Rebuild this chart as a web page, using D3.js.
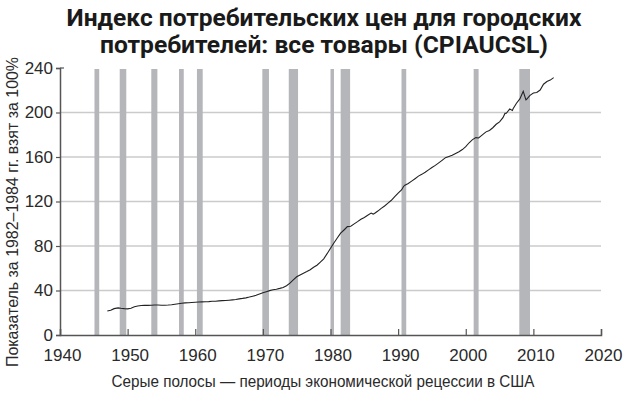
<!DOCTYPE html>
<html>
<head>
<meta charset="utf-8">
<script src="https://cdn.jsdelivr.net/npm/d3@7"></script>
<style>
  body { margin: 0; background: #fff; }
  svg { display: block; }
</style>
</head>
<body>
<svg width="627" height="395"></svg>
<script>
// CPI values (year as decimal, index 1982-84 = 100)
let cpi_dates = [1947.0, 1947.5, 1948.0, 1948.6, 1949.0, 1949.5, 1950.0, 1950.5, 1951.0, 1951.5,
  1952.0, 1952.5, 1953.0, 1953.5, 1954.0, 1954.5, 1955.0, 1955.5, 1956.0, 1956.5,
  1957.0, 1957.5, 1958.0, 1958.5, 1959.0, 1959.5, 1960.0, 1960.5, 1961.0, 1961.5,
  1962.0, 1962.5, 1963.0, 1963.5, 1964.0, 1964.5, 1965.0, 1965.5, 1966.0, 1966.5,
  1967.0, 1967.5, 1968.0, 1968.5, 1969.0, 1969.5, 1970.0, 1970.5, 1971.0, 1971.5,
  1972.0, 1972.5, 1973.0, 1973.5, 1974.0, 1974.5, 1975.0, 1975.5, 1976.0, 1976.5,
  1977.0, 1977.5, 1978.0, 1978.5, 1979.0, 1979.5, 1980.0, 1980.5, 1981.0, 1981.5,
  1982.0, 1982.5, 1983.0, 1983.5, 1984.0, 1984.5, 1985.0, 1985.5, 1986.0, 1986.3,
  1986.5, 1987.0, 1987.5, 1988.0, 1988.5, 1989.0, 1989.5, 1990.0, 1990.5, 1990.8,
  1991.0, 1991.5, 1992.0, 1992.5, 1993.0, 1993.5, 1994.0, 1994.5, 1995.0, 1995.5,
  1996.0, 1996.5, 1997.0, 1997.5, 1998.0, 1998.5, 1999.0, 1999.5, 2000.0, 2000.5,
  2001.0, 2001.5, 2001.9, 2002.5, 2003.0, 2003.5, 2004.0, 2004.5, 2005.0, 2005.5,
  2005.8, 2006.0, 2006.5, 2006.9, 2007.0, 2007.5, 2008.0, 2008.5, 2008.9, 2009.0,
  2009.5, 2010.0, 2010.5, 2011.0, 2011.5, 2012.0, 2012.5, 2013.0];
let cpi_values = [21.5, 22.2, 23.7, 24.4, 24.0, 23.7, 23.5, 24.0, 25.4, 26.0,
  26.5, 26.7, 26.6, 26.8, 26.9, 26.9, 26.8, 26.8, 26.9, 27.2,
  27.7, 28.1, 28.5, 28.9, 29.0, 29.2, 29.4, 29.6, 29.8, 29.9,
  30.0, 30.3, 30.4, 30.7, 30.9, 31.0, 31.3, 31.6, 31.9, 32.5,
  32.9, 33.4, 34.1, 34.9, 35.7, 36.8, 37.9, 38.9, 39.9, 40.6,
  41.2, 41.9, 42.7, 44.3, 46.6, 49.6, 52.3, 54.0, 55.6, 57.1,
  58.7, 60.9, 62.7, 65.5, 68.5, 73.1, 78.0, 82.7, 87.2, 91.5,
  94.4, 97.4, 97.8, 99.9, 101.9, 104.1, 105.7, 107.7, 109.6, 108.7,
  109.3, 111.4, 113.8, 116.0, 118.5, 121.1, 124.4, 127.5, 130.4, 133.5,
  134.7, 136.2, 138.3, 140.5, 142.8, 144.4, 146.3, 148.4, 150.5, 152.5,
  154.7, 157.0, 159.4, 160.5, 161.6, 163.2, 164.7, 166.7, 169.3, 172.8,
  175.6, 177.4, 177.1, 180.1, 182.6, 183.9, 186.3, 189.4, 191.6, 195.4,
  199.2, 199.3, 203.1, 201.8, 203.4, 208.3, 212.2, 219.0, 211.4, 211.9,
  215.4, 217.5, 218.0, 220.2, 225.4, 227.8, 229.1, 231.3];

// US recessions (NBER), start and end as decimal years
let rec_start = [1945.1, 1948.83, 1953.5, 1957.6, 1960.25, 1969.92, 1973.83, 1980.0, 1981.5, 1990.5, 2001.17, 2007.92];
let rec_end   = [1945.8, 1949.8, 1954.4, 1958.3, 1961.1, 1970.9, 1975.2, 1980.5, 1982.9, 1991.2, 2001.9, 2009.5];

let x_ticks = [1940, 1950, 1960, 1970, 1980, 1990, 2000, 2010, 2020];
let y_ticks = [0, 40, 80, 120, 160, 200, 240];

let title_lines = ["Индекс потребительских цен для городских", "потребителей: все товары (CPIAUCSL)"];
let x_title = "Серые полосы — периоды экономической рецессии в США";
let y_title = "Показатель за 1982–1984 гг. взят за 100%";

let svg = d3.select('svg');
let plot_left = 60, plot_right = 601, plot_top = 68, plot_bottom = 335;

let x = d3.scaleLinear().domain([1940, 2020]).range([plot_left, plot_right]);
let y = d3.scaleLinear().domain([0, 240]).range([plot_bottom, plot_top]);

let label_font = "'Liberation Sans', Arial, sans-serif";

// title
svg.selectAll('text.title')
    .data(title_lines)
    .join('text')
    .attr('class', 'title')
    .attr('x', 324)
    .attr('y', function (d, i) { return 26 + i * 27; })
    .attr('text-anchor', 'middle')
    .attr('font-family', "'Liberation Sans Narrow', 'Roboto', sans-serif")
    .attr('font-weight', 'bold')
    .attr('font-size', 23)
    .attr('fill', '#1a1a1a')
    .attr('textLength', function (d, i) { return i == 0 ? 515 : 448; })
    .attr('lengthAdjust', 'spacingAndGlyphs')
    .text(function (d) { return d; });

// horizontal grid
svg.append('g')
    .selectAll('line')
    .data(y_ticks.filter(function (d) { return d > 0 && d < 240; }))
    .join('line')
    .attr('x1', plot_left)
    .attr('x2', plot_right)
    .attr('y1', function (d) { return y(d); })
    .attr('y2', function (d) { return y(d); })
    .attr('stroke', '#cbcbcb')
    .attr('stroke-width', 1.5);

// recession bars (drawn over the grid)
let rec_data = rec_start.map(function (s, i) { return { s: s, e: rec_end[i] }; });
svg.append('g')
    .selectAll('rect')
    .data(rec_data)
    .join('rect')
    .attr('x', function (d) { return x(d.s); })
    .attr('y', y(240) + 1)
    .attr('width', function (d) { return Math.max(3.5, x(d.e) - x(d.s)); })
    .attr('height', y(0) - y(240) - 1)
    .attr('fill', '#b5b6b9');

// y axis
let y_axis = d3.axisLeft(y).tickValues(y_ticks).tickSize(4).tickPadding(3);
let gy = svg.append('g')
    .attr('transform', 'translate(' + plot_left + ',0)')
    .call(y_axis);
gy.select('.domain').attr('stroke', '#555').attr('stroke-width', 1.5);
gy.selectAll('.tick line').attr('stroke', '#555').attr('stroke-width', 1.2);
gy.selectAll('.tick text')
    .attr('font-family', label_font)
    .attr('font-size', 17)
    .attr('fill', '#2a2a2a');
// small inward tick at the top
gy.append('line')
    .attr('x1', 0).attr('x2', 4)
    .attr('y1', y(240)).attr('y2', y(240))
    .attr('stroke', '#555').attr('stroke-width', 1.2);

// x axis, ticks point up into the plot
let x_axis = d3.axisBottom(x).tickValues(x_ticks).tickFormat(d3.format('d')).tickSize(-6).tickPadding(14);
let gx = svg.append('g')
    .attr('transform', 'translate(0,' + plot_bottom + ')')
    .call(x_axis);
gx.select('.domain').attr('stroke', '#555').attr('stroke-width', 1.5);
gx.selectAll('.tick line').attr('stroke', '#555').attr('stroke-width', 1.2);
gx.selectAll('.tick text')
    .attr('dx', 2)
    .attr('font-family', label_font)
    .attr('font-size', 17)
    .attr('fill', '#2a2a2a');

// CPI line
let cpi_data = cpi_dates.map(function (d, i) { return { t: d, v: cpi_values[i] }; });
let line = d3.line()
    .x(function (d) { return x(d.t); })
    .y(function (d) { return y(d.v); });
svg.append('path')
    .datum(cpi_data)
    .attr('d', line)
    .attr('fill', 'none')
    .attr('stroke', '#222')
    .attr('stroke-width', 1.1);

// axis titles
svg.append('text')
    .attr('x', 323)
    .attr('y', 387)
    .attr('text-anchor', 'middle')
    .attr('font-family', label_font)
    .attr('font-size', 16)
    .attr('fill', '#2a2a2a')
    .attr('textLength', 423)
    .attr('lengthAdjust', 'spacingAndGlyphs')
    .text(x_title);

svg.append('text')
    .attr('transform', 'translate(18,212) rotate(-90)')
    .attr('text-anchor', 'middle')
    .attr('font-family', label_font)
    .attr('font-size', 16)
    .attr('fill', '#2a2a2a')
    .attr('textLength', 310)
    .attr('lengthAdjust', 'spacingAndGlyphs')
    .text(y_title);
</script>
</body>
</html>
